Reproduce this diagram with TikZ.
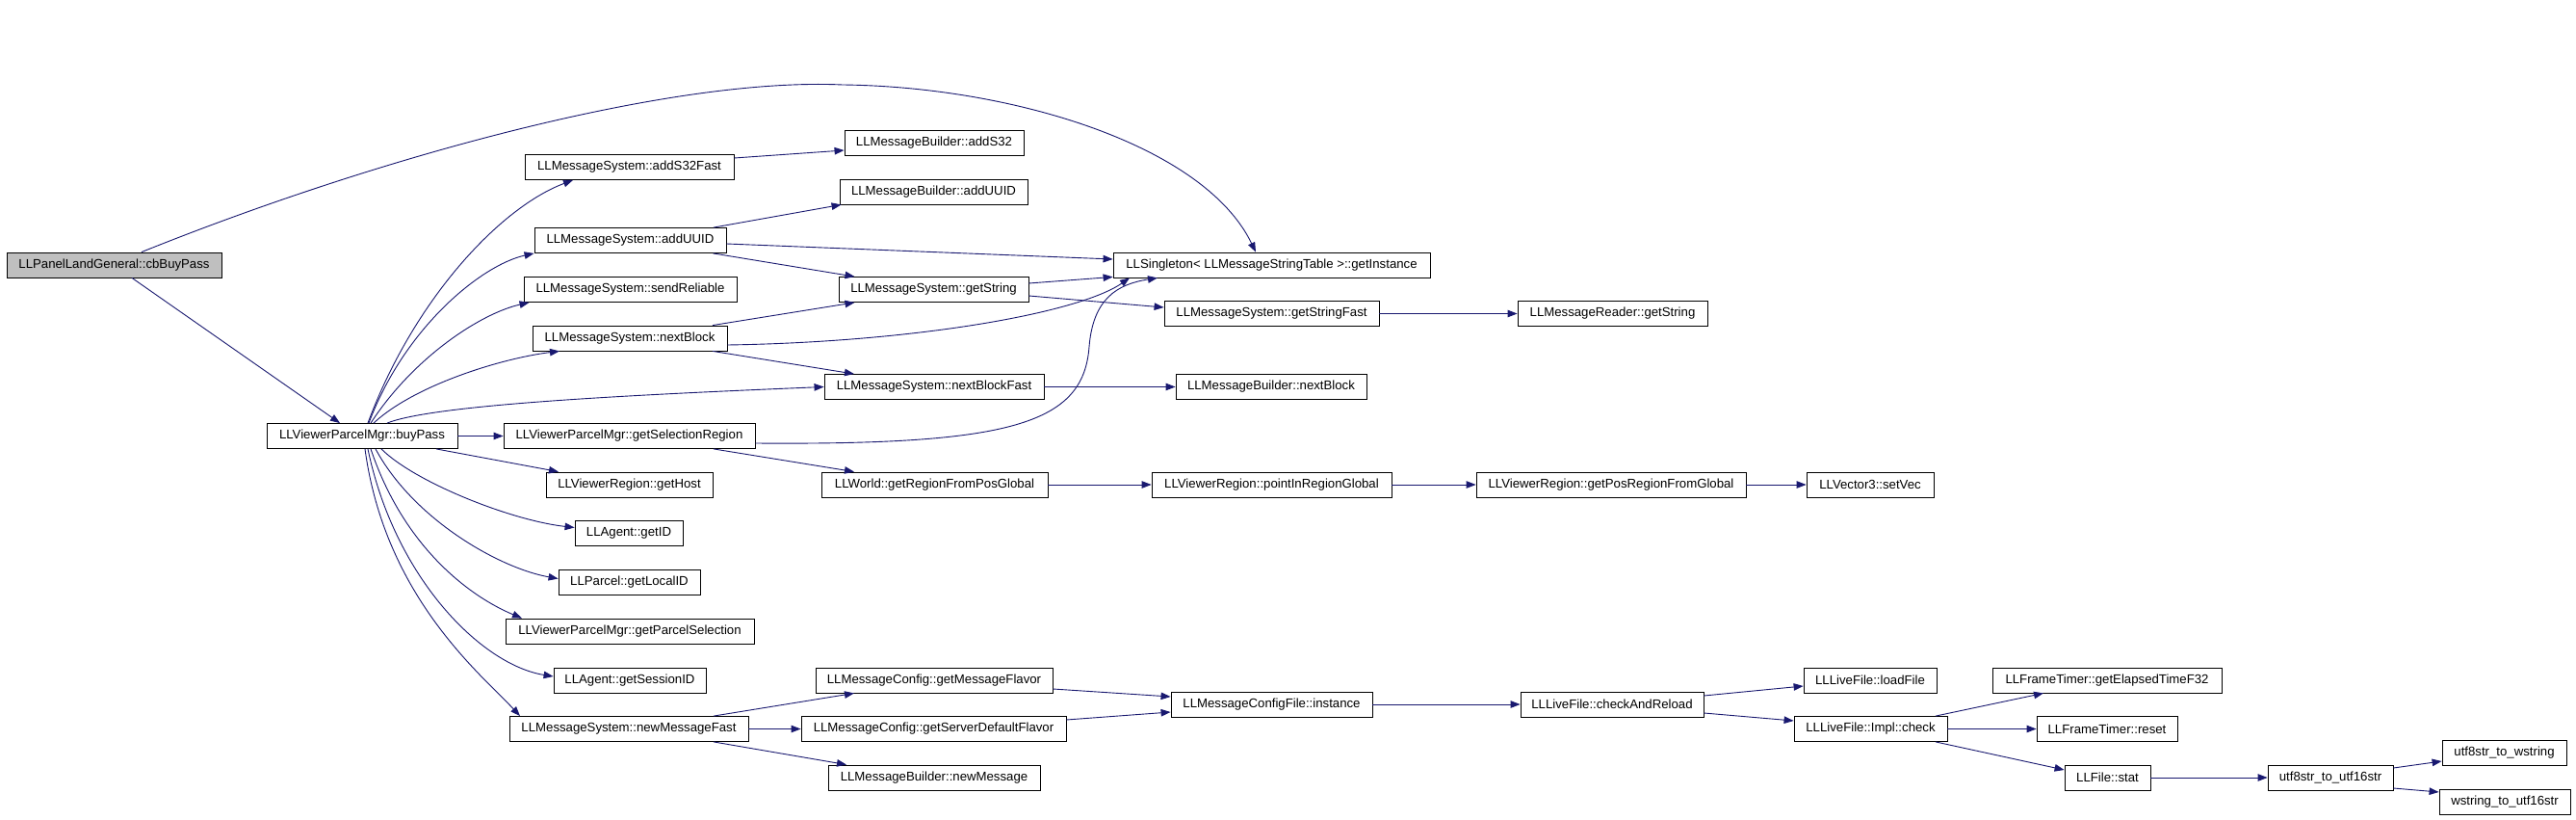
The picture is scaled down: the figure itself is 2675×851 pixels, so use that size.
\documentclass[tikz,border=0pt]{standalone}
\usepackage{fontspec}
\setmainfont{Liberation Sans}
\usetikzlibrary{arrows.meta,calc}
\definecolor{edgeblue}{HTML}{191970}
\definecolor{rootgray}{HTML}{BFBFBF}
\newcommand\mknode[5]{\node[box, minimum width=#4pt] (#1) at (#2,#3) {#5};}
\begin{document}
\begin{tikzpicture}[x=1pt,y=-1pt,
  box/.style={draw=black, line width=0.85pt, minimum height=26pt, inner sep=0pt,
    font=\fontsize{13.2}{15}\selectfont, text=black, fill=white},
  rootbox/.style={box, fill=rootgray},
  edge/.style={draw=edgeblue, line width=0.9pt, -{Triangle[length=10pt,width=7.5pt]}}]
\useasboundingbox[fill=white] (0,0) rectangle (2675,851);

% nodes
\node[rootbox, minimum width=223pt] (cb) at (118.5,275) {LLPanelLandGeneral::cbBuyPass};
\mknode{buyPass}{376}{452.5}{198}{LLViewerParcelMgr::buyPass}
\mknode{addS32Fast}{653.5}{173.5}{217}{LLMessageSystem::addS32Fast}
\mknode{addUUIDms}{654.5}{249.5}{199}{LLMessageSystem::addUUID}
\mknode{sendReliable}{654.5}{300.5}{221}{LLMessageSystem::sendReliable}
\mknode{nextBlockMs}{654}{351}{202}{LLMessageSystem::nextBlock}
\mknode{getSelectionRegion}{653.5}{452.5}{261}{LLViewerParcelMgr::getSelectionRegion}
\mknode{getHost}{653.5}{503}{173}{LLViewerRegion::getHost}
\mknode{getID}{653}{553.5}{112}{LLAgent::getID}
\mknode{getLocalID}{653.5}{604.5}{147}{LLParcel::getLocalID}
\mknode{getParcelSelection}{654}{655}{258}{LLViewerParcelMgr::getParcelSelection}
\mknode{getSessionID}{654}{706}{158}{LLAgent::getSessionID}
\mknode{newMessageFast}{653}{756.5}{248}{LLMessageSystem::newMessageFast}
\mknode{addS32b}{970}{148.5}{186}{LLMessageBuilder::addS32}
\mknode{addUUIDb}{969.5}{199}{195}{LLMessageBuilder::addUUID}
\mknode{getString}{969.5}{300.5}{197}{LLMessageSystem::getString}
\mknode{nextBlockFast}{970}{401.5}{228}{LLMessageSystem::nextBlockFast}
\mknode{LLWorld}{970.5}{503}{235}{LLWorld::getRegionFromPosGlobal}
\mknode{getMessageFlavor}{970}{706}{246}{LLMessageConfig::getMessageFlavor}
\mknode{getServerDefaultFlavor}{969.5}{756.5}{275}{LLMessageConfig::getServerDefaultFlavor}
\mknode{newMessage}{970}{807}{220}{LLMessageBuilder::newMessage}
\mknode{getInstance}{1320.5}{275}{329}{LLSingleton< LLMessageStringTable >::getInstance}
\mknode{getStringFast}{1320.5}{325.5}{223}{LLMessageSystem::getStringFast}
\mknode{MBnextBlock}{1320}{401.5}{198}{LLMessageBuilder::nextBlock}
\mknode{pointInRegion}{1320.5}{503}{249}{LLViewerRegion::pointInRegionGlobal}
\mknode{CFinstance}{1320.5}{731}{209}{LLMessageConfigFile::instance}
\mknode{MRgetString}{1674.5}{325.5}{197}{LLMessageReader::getString}
\mknode{getPosRegion}{1673}{503}{280}{LLViewerRegion::getPosRegionFromGlobal}
\mknode{checkAndReload}{1674}{731}{190}{LLLiveFile::checkAndReload}
\mknode{setVec}{1942}{503}{132}{LLVector3::setVec}
\mknode{loadFile}{1942}{706}{138}{LLLiveFile::loadFile}
\mknode{check}{1942.5}{756.5}{159}{LLLiveFile::Impl::check}
\mknode{getElapsed}{2188}{706}{238}{LLFrameTimer::getElapsedTimeF32}
\mknode{reset}{2188}{756.5}{146}{LLFrameTimer::reset}
\mknode{stat}{2188.5}{807}{89}{LLFile::stat}
\mknode{utfsixteen}{2420}{807}{130}{utf8str\_to\_utf16str}
\mknode{utfwstring}{2600.5}{781.5}{129}{utf8str\_to\_wstring}
\mknode{wstringsixteen}{2601}{832.5}{136}{wstring\_to\_utf16str}

% edges from cbBuyPass
\draw[edge] ($(cb.north)+(28.5,0)$) .. controls (400,160) and (700,80) .. (875,88)
  .. controls (1050,90) and (1250,150) .. ($(getInstance.north)+(-16.5,0)$);
\draw[edge] ($(cb.south)+(18.5,0)$) -- ($(buyPass.north)+(-23,0)$);

% edges from buyPass
\draw[edge] ($(buyPass.north)+(6,0)$) .. controls (430,310) and (520,215) .. ($(addS32Fast.south)+(-58.5,0)$);
\draw[edge] ($(buyPass.north)+(7,0)$) .. controls (420,340) and (500,275) .. (addUUIDms.south west);
\draw[edge] ($(buyPass.north)+(9,0)$) .. controls (430,370) and (500,325) .. ($(sendReliable.south west)+(6,0)$);
\draw[edge] ($(buyPass.north)+(12,0)$) .. controls (430,400) and (520,372) .. ($(nextBlockMs.south)+(-73,0)$);
\draw[edge] ($(buyPass.north)+(26,0)$) .. controls (450,420) and (650,410) .. (nextBlockFast.west);
\draw[edge] (buyPass.east) -- (getSelectionRegion.west);
\draw[edge] ($(buyPass.south)+(77,0)$) -- ($(getHost.north)+(-73.5,0)$);
\draw[edge] ($(buyPass.south)+(20,0)$) .. controls (430,500) and (530,540) .. ($(getID.west)+(0,-6)$);
\draw[edge] ($(buyPass.south)+(14,0)$) .. controls (430,540) and (520,590) .. ($(getLocalID.west)+(0,-4)$);
\draw[edge] ($(buyPass.south)+(9,0)$) .. controls (420,570) and (490,620) .. ($(getParcelSelection.north)+(-112,0)$);
\draw[edge] ($(buyPass.south)+(6,0)$) .. controls (410,600) and (500,690) .. ($(getSessionID.west)+(0,-4)$);
\draw[edge] ($(buyPass.south)+(3,0)$) .. controls (400,620) and (500,700) .. ($(newMessageFast.north)+(-113,0)$);

% second column
\draw[edge] ($(addS32Fast.east)+(0,-9.5)$) -- ($(addS32b.west)+(0,7.5)$);
\draw[edge] ($(addUUIDms.north)+(86.5,0)$) -- ($(addUUIDb.south west)+(2,0)$);
\draw[edge] ($(addUUIDms.east)+(0,3.5)$) -- ($(getInstance.west)+(0,-6)$);
\draw[edge] ($(addUUIDms.south)+(86,0)$) -- ($(getString.north)+(-82,0)$);
\draw[edge] ($(nextBlockMs.north)+(86,0)$) -- ($(getString.south)+(-82,0)$);
\draw[edge] ($(nextBlockMs.east)+(0,7)$) .. controls (950,355) and (1120,325) .. ($(getInstance.south)+(-147.5,0)$);
\draw[edge] ($(nextBlockMs.south)+(86,0)$) -- ($(nextBlockFast.north)+(-83,0)$);
\draw[edge] ($(getSelectionRegion.east)+(0,7.5)$) .. controls (1050,462) and (1125,440) .. (1131,360)
  .. controls (1135,310) and (1160,295) .. ($(getInstance.south)+(-118.5,0)$);
\draw[edge] ($(getSelectionRegion.south)+(87.5,0)$) -- ($(LLWorld.north)+(-83.5,0)$);
\draw[edge] ($(newMessageFast.north)+(88,0)$) -- ($(getMessageFlavor.south)+(-83,0)$);
\draw[edge] (newMessageFast.east) -- (getServerDefaultFlavor.west);
\draw[edge] ($(newMessageFast.south)+(88,0)$) -- ($(newMessage.north)+(-91,0)$);

% third column
\draw[edge] ($(getString.east)+(0,-6.5)$) -- ($(getInstance.south west)+(0,-1)$);
\draw[edge] ($(getString.east)+(0,6.5)$) -- ($(getStringFast.west)+(0,-6.5)$);
\draw[edge] (nextBlockFast.east) -- (MBnextBlock.west);
\draw[edge] (LLWorld.east) -- (pointInRegion.west);
\draw[edge] ($(getMessageFlavor.east)+(0,9)$) -- ($(CFinstance.west)+(0,-8)$);
\draw[edge] ($(getServerDefaultFlavor.east)+(0,-9.5)$) -- ($(CFinstance.west)+(0,8)$);

% further right
\draw[edge] (getStringFast.east) -- (MRgetString.west);
\draw[edge] (pointInRegion.east) -- (getPosRegion.west);
\draw[edge] (getPosRegion.east) -- (setVec.west);
\draw[edge] (CFinstance.east) -- (checkAndReload.west);
\draw[edge] ($(checkAndReload.east)+(0,-9)$) -- ($(loadFile.west)+(0,6)$);
\draw[edge] ($(checkAndReload.east)+(0,9)$) -- ($(check.west)+(0,-8.5)$);
\draw[edge] ($(check.north)+(67.5,0)$) -- ($(getElapsed.south)+(-66,0)$);
\draw[edge] (check.east) -- (reset.west);
\draw[edge] ($(check.south)+(67.5,0)$) -- ($(stat.west)+(0,-8)$);
\draw[edge] (stat.east) -- (utfsixteen.west);
\draw[edge] ($(utfsixteen.east)+(0,-10)$) -- ($(utfwstring.west)+(0,8.5)$);
\draw[edge] ($(utfsixteen.east)+(0,11)$) -- ($(wstringsixteen.west)+(0,-10.5)$);
\end{tikzpicture}
\end{document}
